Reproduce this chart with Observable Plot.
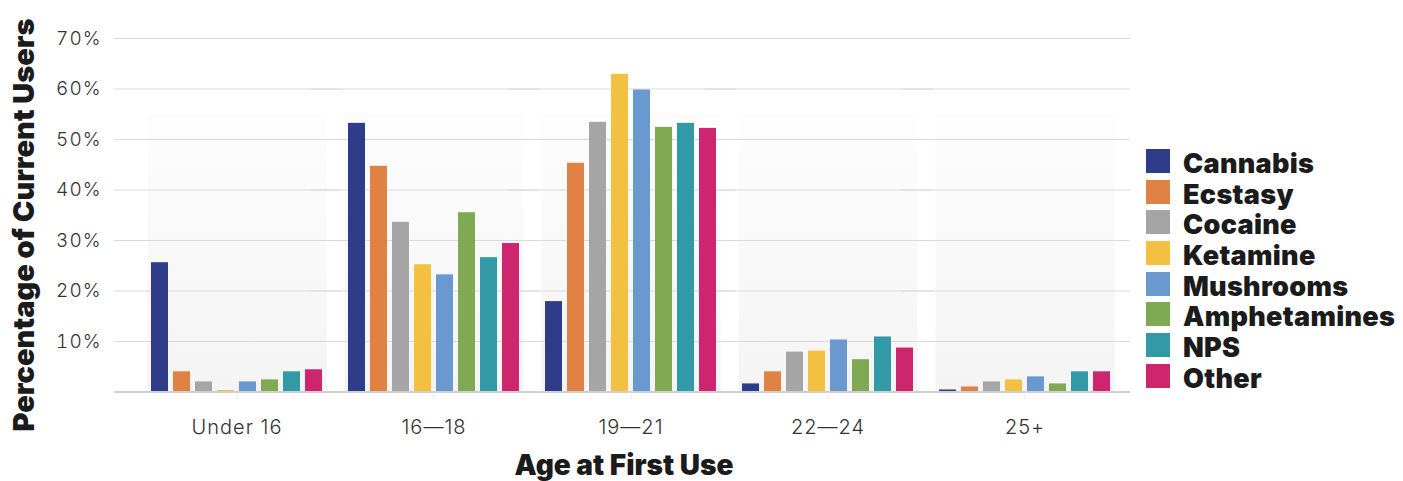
<!DOCTYPE html>
<html>
<head>
<meta charset="utf-8">
<script src="https://cdn.jsdelivr.net/npm/d3@7"></script>
<script src="https://cdn.jsdelivr.net/npm/@observablehq/plot@0.6"></script>
<style>
  html, body { margin: 0; padding: 0; background: #fff; }
  #wrap { position: relative; width: 1403px; height: 481px; overflow: hidden; }
  .ytitle { position: absolute; left: 23px; top: 225px; transform: translate(-50%, -50%) rotate(-90deg);
    white-space: nowrap; font-family: Inter, "Open Sans", sans-serif; font-weight: 900; font-size: 29px; line-height: 1; color: #1b1b1b; }
  .xtitle { position: absolute; left: 624px; top: 465px; transform: translate(-50%, -50%);
    white-space: nowrap; font-family: Inter, "Open Sans", sans-serif; font-weight: 900; font-size: 28px; line-height: 1; color: #1b1b1b; }
  #legend { position: absolute; left: 1146px; top: 149px; font-family: Inter, "Open Sans", sans-serif; }
  .item { position: relative; height: 30.7px; }
  .sw { position: absolute; left: 0; top: 0; width: 24px; height: 24px; }
  .lb { position: absolute; left: 37px; top: 14px; transform: translateY(-50%); white-space: nowrap;
    font-weight: 900; font-size: 27px; color: #1b1b1b; line-height: 1; letter-spacing: 0.3px; }
  g[aria-label="fx-axis tick label"] text, g[aria-label="y-axis tick label"] text { letter-spacing: 1px; }
</style>
</head>
<body>
<div id="wrap">
  <div id="chart"></div>
  <div class="ytitle">Percentage of Current Users</div>
  <div class="xtitle">Age at First Use</div>
  <div id="legend"></div>
</div>
<script>
const groups = ["Under 16", "16\u201418", "19\u201421", "22\u201424", "25+"];
const drugs = ["Cannabis", "Ecstasy", "Cocaine", "Ketamine", "Mushrooms", "Amphetamines", "NPS", "Other"];
const colors = ["#2f3c8a", "#df8244", "#a5a5a5", "#f4c042", "#6a99d0", "#7faa53", "#3299a6", "#cd266e"];

const cannabis     = [25.6, 53.2, 17.9, 1.6, 0.4];
const ecstasy      = [4.0, 44.7, 45.3, 4.0, 1.0];
const cocaine      = [2.0, 33.6, 53.4, 7.9, 2.0];
const ketamine     = [0.3, 25.2, 62.9, 8.1, 2.4];
const mushrooms    = [2.0, 23.2, 59.8, 10.3, 3.0];
const amphetamines = [2.4, 35.5, 52.4, 6.4, 1.6];
const nps          = [4.0, 26.6, 53.2, 10.9, 4.0];
const other        = [4.4, 29.4, 52.2, 8.7, 4.0];

const yTicks = [10, 20, 30, 40, 50, 60, 70];

const series = [cannabis, ecstasy, cocaine, ketamine, mushrooms, amphetamines, nps, other];
const data = groups.flatMap((g, i) => drugs.map((d, j) => ({group: g, drug: d, value: series[j][i]})));

const chart = Plot.plot({
  width: 1403,
  height: 481,
  marginLeft: 137,
  marginRight: 279.3,
  marginTop: 38,
  marginBottom: 89.5,
  style: {fontFamily: "Inter, 'Open Sans', sans-serif", color: "#333", background: "transparent"},
  fx: {domain: groups, paddingInner: 0.0925, paddingOuter: 0.04625, axis: null, label: null},
  x: {domain: drugs, paddingInner: 5 / 23, paddingOuter: 0, axis: null},
  y: {domain: [0, 70], axis: null},
  color: {domain: drugs, range: colors},
  marks: [
    Plot.frame({fill: "url(#bandGrad)", stroke: null, insetTop: 75}),
    Plot.ruleY(yTicks, {stroke: "#dadada", strokeWidth: 1, insetLeft: -33, insetRight: -16}),
    Plot.barY(data, {fx: "group", x: "drug", y: "value", fill: "drug"}),
    Plot.ruleY([0], {stroke: "#d0d0d0", strokeWidth: 2, insetLeft: -33, insetRight: -16}),
    Plot.axisY(yTicks, {anchor: "left", tickSize: 0, tickPadding: 46, tickFormat: d => d + "%", fontSize: 19, fontWeight: 300, fill: "#333", label: null}),
    Plot.axisFx({anchor: "bottom", tickSize: 8, tickPadding: 20, fontSize: 20, fontWeight: 300, fill: "#333", stroke: "#d8d8d8", strokeDasharray: "1.5,1.5", label: null})
  ]
});

// gradient for the group background bands
const ns = "http://www.w3.org/2000/svg";
const defs = document.createElementNS(ns, "defs");
defs.innerHTML = '<linearGradient id="bandGrad" x1="0" y1="0" x2="0" y2="1">' +
  '<stop offset="0" stop-color="#fdfdfd"/><stop offset="1" stop-color="#f4f4f4"/></linearGradient>';
chart.insertBefore(defs, chart.firstChild);

document.getElementById("chart").appendChild(chart);

const legend = document.getElementById("legend");
drugs.forEach((d, i) => {
  const item = document.createElement("div");
  item.className = "item";
  item.innerHTML = `<div class="sw" style="background:${colors[i]}"></div><div class="lb">${d}</div>`;
  legend.appendChild(item);
});
</script>
</body>
</html>
